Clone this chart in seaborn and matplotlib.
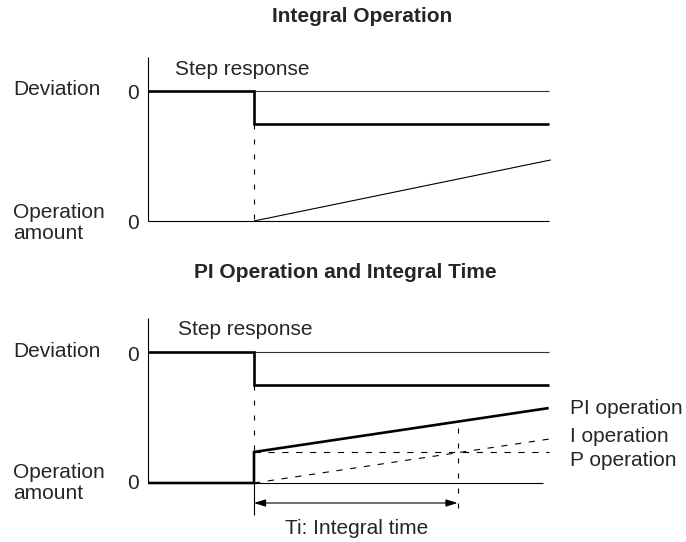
import matplotlib
matplotlib.use("Agg")
import matplotlib.pyplot as plt
import seaborn as sns
import numpy as np
import pandas as pd

# ---------------- data (time in arbitrary units, step at t = 1) ----------------
step_t = 1.0
t_end = 3.78
ti_end = 2.92            # step time + Ti
op_zero_end_bottom = 3.73

dev_t = [0.0, step_t, step_t, t_end]
dev_v = [0.0, 0.0, -1.0, -1.0]

# Integral operation (top panel)
int_t = [step_t, 3.80]
int_v = [0.0, 1.85]

# PI operation (bottom panel)
pi_t = [0.0, step_t, step_t, t_end]
pi_v = [0.0, 0.0, 0.94, 2.27]
p_t = [step_t, t_end]
p_v = [0.94, 0.94]
i_t = [step_t, t_end]
i_v = [0.0, 1.33]

titles = ["Integral Operation", "PI Operation and Integral Time"]
right_labels = ["PI operation", "I operation", "P operation"]

# ---------------- layout ----------------
W, H = 686, 542
PX_T = 106.0   # px per time unit
PX_Y = 33.0    # px per level unit
AX_LEFT = 148

sns.set_theme(style="white")
plt.rcParams["font.family"] = ["Liberation Sans", "DejaVu Sans"]
plt.rcParams["lines.scale_dashes"] = False
plt.rcParams["lines.solid_joinstyle"] = "miter"
plt.rcParams["lines.solid_capstyle"] = "butt"

FS = 15
fig = plt.figure(figsize=(W / 100, H / 100), dpi=100)


def make_ax(top_px, bottom_px, dev0_px):
    ax = fig.add_axes([AX_LEFT / W, 1 - bottom_px / H, (W - AX_LEFT) / W, (bottom_px - top_px) / H])
    ax.set_xlim(0, (W - AX_LEFT) / PX_T)
    ax.set_ylim(-(bottom_px - dev0_px) / PX_Y, (dev0_px - top_px) / PX_Y)
    ax.set_axis_off()
    return ax


def line(ax, x, y, lw, ls="-", color="black"):
    sns.lineplot(x=x, y=y, ax=ax, color=color, lw=lw, linestyle=ls,
                 estimator=None, sort=False, legend=False)
    for l in ax.lines:
        l.set_clip_on(False)


THICK = 1.9
THIN = 0.8
DASH_V = (0, (3.6, 7.2))
DASH_H = (0, (4.5, 5.5))

# ---------------- top panel ----------------
top_dev0, top_op0 = 91, 221
ax1 = make_ax(57, 241, top_dev0)
op1 = -(top_op0 - top_dev0) / PX_Y
ylim_top1 = ax1.get_ylim()[1]

line(ax1, [0, 0], [ylim_top1, op1], THIN)                       # axis
line(ax1, [step_t, t_end], [0, 0], THIN, color="#333333")       # deviation zero ref
line(ax1, [0, t_end], [op1, op1], THIN)                          # operation zero
line(ax1, dev_t, dev_v, THICK)                                   # deviation step
line(ax1, [step_t, step_t], [-1, op1], THIN, DASH_V)             # dashed marker
line(ax1, int_t, [op1 + v for v in int_v], THIN)                 # integral ramp

ax1.text(0.255, 0.64, "Step response", fontsize=FS, ha="left", va="center")
ax1.text(-1.27, 0.06, "Deviation", fontsize=FS, ha="left", va="center")
ax1.text(-0.14, -0.07, "0", fontsize=FS, ha="center", va="center")
ax1.text(-1.27, op1 - 0.06, "Operation\namount", fontsize=FS, ha="left", va="center", linespacing=1.1)
ax1.text(-0.14, op1 - 0.07, "0", fontsize=FS, ha="center", va="center")

# ---------------- bottom panel ----------------
bot_dev0, bot_op0 = 352, 483
ax2 = make_ax(318, 542, bot_dev0)
op2 = -(bot_op0 - bot_dev0) / PX_Y
ylim_top2 = ax2.get_ylim()[1]

line(ax2, [0, 0], [ylim_top2, op2], THIN)                       # axis
line(ax2, [step_t, t_end], [0, 0], THIN, color="#333333")
line(ax2, [step_t, op_zero_end_bottom], [op2, op2], THIN)
line(ax2, dev_t, dev_v, THICK)
line(ax2, [step_t, step_t], [-1, op2 + pi_v[2]], THIN, DASH_V)
line(ax2, p_t, [op2 + v for v in p_v], THIN, DASH_H)
line(ax2, i_t, [op2 + v for v in i_v], THIN, DASH_H)
line(ax2, pi_t, [op2 + v for v in pi_v], THICK)
# Ti markers
ti_bottom = -(515 - bot_dev0) / PX_Y
line(ax2, [step_t, step_t], [op2, ti_bottom], THIN)
line(ax2, [ti_end, ti_end], [-(428 - bot_dev0) / PX_Y, -(513 - bot_dev0) / PX_Y], THIN, DASH_V)
arrow_y = -(503 - bot_dev0) / PX_Y
ax2.annotate("", xy=(ti_end, arrow_y), xytext=(step_t, arrow_y),
             arrowprops=dict(arrowstyle="<|-|>,head_length=0.7,head_width=0.22",
                             lw=THIN, color="black", shrinkA=0, shrinkB=0,
                             mutation_scale=10), annotation_clip=False)

ax2.text(0.28, 0.67, "Step response", fontsize=FS, ha="left", va="center")
ax2.text(-1.27, 0.03, "Deviation", fontsize=FS, ha="left", va="center")
ax2.text(-0.14, -0.10, "0", fontsize=FS, ha="center", va="center")
ax2.text(-1.27, op2 + 0.0, "Operation\namount", fontsize=FS, ha="left", va="center", linespacing=1.1)
ax2.text(-0.14, op2 - 0.02, "0", fontsize=FS, ha="center", va="center")

for lab, ypx in zip(right_labels, [408, 437, 460]):
    ax2.text((570 - AX_LEFT) / PX_T, -(ypx - bot_dev0) / PX_Y, lab, fontsize=FS, ha="left", va="center")
ax2.text((357 - AX_LEFT) / PX_T, -(528 - bot_dev0) / PX_Y, "Ti: Integral time", fontsize=FS, ha="center", va="center")

# ---------------- titles ----------------
fig.text(362 / W, 1 - 16 / H, titles[0], fontsize=FS, fontweight="bold", ha="center", va="center")
fig.text(345 / W, 1 - 273 / H, titles[1], fontsize=FS, fontweight="bold", ha="center", va="center")

fig.savefig("out.png", dpi=100)
